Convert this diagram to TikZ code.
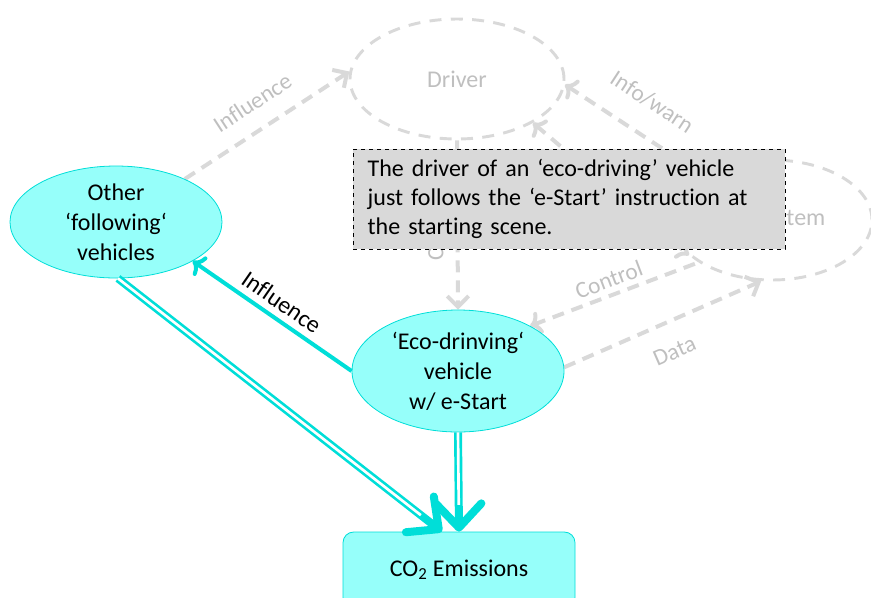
\documentclass[tikz,border=0pt]{standalone}
\usepackage{fontspec}
\setmainfont{Carlito}[Ligatures=NoCommon]
\usetikzlibrary{shapes.geometric, arrows.meta, positioning, backgrounds}
\definecolor{aquafill}{RGB}{150,255,250}
\definecolor{aquaedge}{RGB}{0,222,216}
\definecolor{paleline}{RGB}{217,217,217}
\definecolor{paletext}{RGB}{191,191,191}
\definecolor{notegray}{RGB}{217,217,217}

\tikzset{
  faded/.style={ellipse, draw=paleline, line width=2.2pt, dash pattern=on 9pt off 7pt, text=paletext, inner sep=0pt},
  actor/.style={ellipse, draw=aquaedge, fill=aquafill, line width=0.6pt, align=center, inner sep=0pt},
  fadedarrow/.style={draw=paleline, line width=3pt, dash pattern=on 9pt off 6pt, -{Straight Barb[length=8pt,width=16pt]}},
  fadedlabel/.style={text=paletext, font=\fontsize{17.5}{21}\selectfont, inner sep=2pt},
  pushline/.style={draw=aquaedge, line width=3pt, -{Straight Barb[length=8pt,width=17pt]}},
  emitline/.style={draw=aquaedge, line width=6pt, -{Straight Barb[length=18pt,width=34pt,line width=6pt,round]},
    postaction={draw=white, line width=2pt, -, shorten >=20pt}}
}

\begin{document}
\begin{tikzpicture}[x=0.75pt, y=-0.75pt, font=\fontsize{18}{22.5}\selectfont]
        \useasboundingbox (0,0) rectangle (871,597);

        \node [faded, minimum width=160.5pt, minimum height=90pt] (driver) at (457,79) {Driver};
        \node [faded, minimum width=150pt, minimum height=90pt, label={[text=paletext, xshift=14pt]center:System}] (system) at (772,220) {};
        \node [actor, minimum width=159pt, minimum height=84pt] (other) at (116,222) {Other\\‘following‘\\vehicles};
        \node [actor, minimum width=159pt, minimum height=91.5pt] (eco) at (458,371) {‘Eco-drinving‘\\vehicle\\w/ e-Start};
        \node [draw=aquaedge, fill=aquafill, line width=0.6pt, rounded corners=8pt, minimum width=174pt, minimum height=57pt] (co2) at (459,570) {CO\textsubscript{2} Emissions};

        \node [draw, dashed, fill=notegray, line width=0.6pt, text width=302pt, inner xsep=11pt, minimum height=75pt, align=left, font=\fontsize{18}{21.75}\selectfont] (note) at (569,199)
          {The driver of an ‘eco-driving’ vehicle just follows the ‘e-Start’ instruction at the starting scene.};

        \begin{scope}[on background layer]
        \draw [fadedarrow] (other.32) -- node [fadedlabel, sloped, above=10.5pt] {Influence} (driver.176);
        \draw [fadedarrow, <-] (driver.357) -- node [fadedlabel, sloped, above=15pt] {Info/warn} (system.147);
        \draw [fadedarrow, <->] (driver.-30) -- (system.203);
        \draw [fadedarrow] (driver.south) -- node [fadedlabel, pos=0.5, xshift=-7pt, rotate=90, anchor=south] {Control} (eco.north);
        \draw [fadedarrow, <-] (eco.32) -- node [fadedlabel, sloped, above=2pt] {Control} (system.210);
        \draw [fadedarrow] (eco.2) -- node [fadedlabel, sloped, below=13pt] {Data} (system.260);
        \end{scope}

        \draw [pushline, <-] (other.333) -- node [sloped, above=1.5pt] {Influence} (eco.180);
        \draw [emitline] (other.272) -- (co2.114);
        \draw [emitline] (eco.south) -- (co2.north);
\end{tikzpicture}
\end{document}
